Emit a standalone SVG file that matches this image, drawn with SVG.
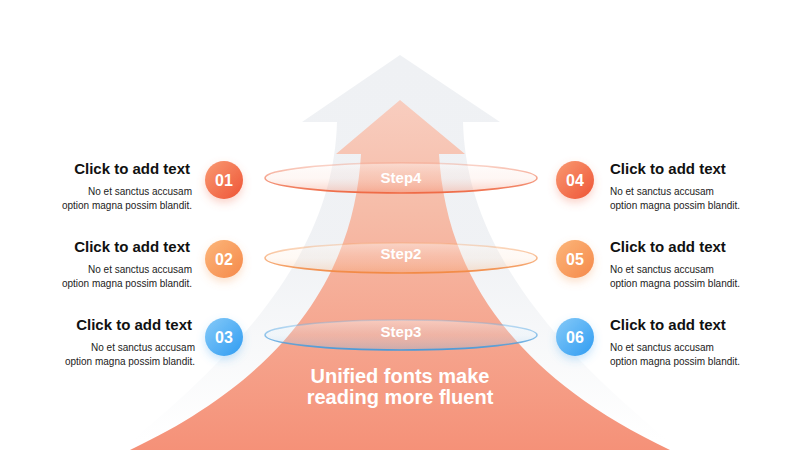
<svg xmlns="http://www.w3.org/2000/svg" width="800" height="450" viewBox="0 0 800 450">
<defs>
<linearGradient id="gGray" x1="0" y1="55" x2="0" y2="440" gradientUnits="userSpaceOnUse">
<stop offset="0" stop-color="#eff1f4"/>
<stop offset="0.5" stop-color="#eff1f4" stop-opacity="0.95"/>
<stop offset="1" stop-color="#eff1f4" stop-opacity="0"/>
</linearGradient>
<linearGradient id="gOrange" x1="0" y1="100" x2="0" y2="450" gradientUnits="userSpaceOnUse">
<stop offset="0" stop-color="#f8cdbf"/>
<stop offset="0.3" stop-color="#f6bda9"/>
<stop offset="1" stop-color="#f59178"/>
</linearGradient>
<linearGradient id="s4" x1="0" y1="0" x2="0" y2="1">
<stop offset="0" stop-color="#f08060" stop-opacity="0.3"/>
<stop offset="1" stop-color="#ef6a45"/>
</linearGradient>
<linearGradient id="f4" x1="0" y1="0" x2="0" y2="1">
<stop offset="0" stop-color="#ffffff" stop-opacity="0.4"/>
<stop offset="0.5" stop-color="#fbd8cc" stop-opacity="0.2"/>
<stop offset="1" stop-color="#f37a58" stop-opacity="0.35"/>
</linearGradient>
<linearGradient id="s2" x1="0" y1="0" x2="0" y2="1">
<stop offset="0" stop-color="#f5a060" stop-opacity="0.3"/>
<stop offset="1" stop-color="#f28a45"/>
</linearGradient>
<linearGradient id="f2" x1="0" y1="0" x2="0" y2="1">
<stop offset="0" stop-color="#ffffff" stop-opacity="0.4"/>
<stop offset="0.5" stop-color="#fde2cc" stop-opacity="0.2"/>
<stop offset="1" stop-color="#f5a060" stop-opacity="0.3"/>
</linearGradient>
<linearGradient id="s3" x1="0" y1="0" x2="0" y2="1">
<stop offset="0" stop-color="#6ab4ea" stop-opacity="0.3"/>
<stop offset="1" stop-color="#4a9ad8"/>
</linearGradient>
<linearGradient id="f3" x1="0" y1="0" x2="0" y2="1">
<stop offset="0" stop-color="#ffffff" stop-opacity="0.4"/>
<stop offset="0.5" stop-color="#d6ebfa" stop-opacity="0.2"/>
<stop offset="1" stop-color="#7ab8e8" stop-opacity="0.35"/>
</linearGradient>
<linearGradient id="cRed" x1="0" y1="0" x2="1" y2="1">
<stop offset="0" stop-color="#f99a72"/>
<stop offset="1" stop-color="#ee5436"/>
</linearGradient>
<linearGradient id="cOrg" x1="0" y1="0" x2="1" y2="1">
<stop offset="0" stop-color="#fcb67a"/>
<stop offset="1" stop-color="#f5894a"/>
</linearGradient>
<linearGradient id="cBlue" x1="0" y1="0" x2="1" y2="1">
<stop offset="0" stop-color="#86caf8"/>
<stop offset="1" stop-color="#2f9cf2"/>
</linearGradient>
<filter id="shRed" x="-50%" y="-50%" width="200%" height="200%"><feDropShadow dx="0" dy="4" stdDeviation="4" flood-color="#f07050" flood-opacity="0.3"/></filter>
<filter id="shOrg" x="-50%" y="-50%" width="200%" height="200%"><feDropShadow dx="0" dy="4" stdDeviation="4" flood-color="#f59a55" flood-opacity="0.3"/></filter>
<filter id="shBlue" x="-50%" y="-50%" width="200%" height="200%"><feDropShadow dx="0" dy="4" stdDeviation="4" flood-color="#4aa8f0" flood-opacity="0.3"/></filter>
</defs>
<style>
.title{font-family:"Liberation Sans",Arial,sans-serif;font-weight:bold;font-size:15px;fill:#111111}
.sub{font-family:"Liberation Sans",Arial,sans-serif;font-size:10px;fill:#222222}
.num{font-family:"Liberation Sans",Arial,sans-serif;font-weight:bold;font-size:16px;fill:#ffffff;text-anchor:middle}
.step{font-family:"Liberation Sans",Arial,sans-serif;font-weight:bold;font-size:15px;fill:#ffffff;text-anchor:middle}
.main{font-family:"Liberation Sans",Arial,sans-serif;font-weight:bold;font-size:20px;fill:#ffffff;text-anchor:middle}
.l{text-anchor:end}
</style>
<rect width="800" height="450" fill="#ffffff"/>
<g id="arrows">
<path id="grayArrow" d="M400,55 L500,122 L463,122 C466,230 530,330 680,450 L120,450 C270,330 334,230 337,122 L302,122 Z" fill="url(#gGray)"/>
<path id="orangeArrow" d="M400,100 L465,154 L439,154 C445,260 500,370 670,450 L130,450 C300,370 355,260 361,154 L336,154 Z" fill="url(#gOrange)"/>
</g>
<g id="step4">
<ellipse cx="401" cy="178" rx="136" ry="15" fill="url(#f4)" stroke="url(#s4)" stroke-width="1.6"/>
<text class="step" x="401" y="183">Step4</text>
</g>
<g id="step2">
<ellipse cx="401" cy="258" rx="136" ry="15" fill="url(#f2)" stroke="url(#s2)" stroke-width="1.6"/>
<text class="step" x="401" y="259">Step2</text>
</g>
<g id="step3">
<ellipse cx="401" cy="335" rx="136" ry="15" fill="url(#f3)" stroke="url(#s3)" stroke-width="1.6"/>
<text class="step" x="401" y="337">Step3</text>
</g>
<g id="mainText">
<text class="main" x="400" y="383">Unified fonts make</text>
<text class="main" x="400" y="404">reading more fluent</text>
</g>
<g id="item01">
<circle cx="224" cy="180" r="19" fill="url(#cRed)" filter="url(#shRed)"/>
<text class="num" x="224" y="186">01</text>
<text class="title l" x="190" y="174">Click to add text</text>
<text class="sub l" x="192" y="195">No et sanctus accusam</text>
<text class="sub l" x="192" y="209">option magna possim blandit.</text>
</g>
<g id="item02">
<circle cx="224" cy="259" r="19" fill="url(#cOrg)" filter="url(#shOrg)"/>
<text class="num" x="224" y="265">02</text>
<text class="title l" x="190" y="252">Click to add text</text>
<text class="sub l" x="192" y="273">No et sanctus accusam</text>
<text class="sub l" x="192" y="287">option magna possim blandit.</text>
</g>
<g id="item03">
<circle cx="224" cy="337" r="19" fill="url(#cBlue)" filter="url(#shBlue)"/>
<text class="num" x="224" y="343">03</text>
<text class="title l" x="192" y="330">Click to add text</text>
<text class="sub l" x="195" y="351">No et sanctus accusam</text>
<text class="sub l" x="195" y="365">option magna possim blandit.</text>
</g>
<g id="item04">
<circle cx="575" cy="180" r="19" fill="url(#cRed)" filter="url(#shRed)"/>
<text class="num" x="575" y="186">04</text>
<text class="title" x="610" y="174">Click to add text</text>
<text class="sub" x="610" y="195">No et sanctus accusam</text>
<text class="sub" x="610" y="209">option magna possim blandit.</text>
</g>
<g id="item05">
<circle cx="575" cy="259" r="19" fill="url(#cOrg)" filter="url(#shOrg)"/>
<text class="num" x="575" y="265">05</text>
<text class="title" x="610" y="252">Click to add text</text>
<text class="sub" x="610" y="273">No et sanctus accusam</text>
<text class="sub" x="610" y="287">option magna possim blandit.</text>
</g>
<g id="item06">
<circle cx="575" cy="337" r="19" fill="url(#cBlue)" filter="url(#shBlue)"/>
<text class="num" x="575" y="343">06</text>
<text class="title" x="610" y="330">Click to add text</text>
<text class="sub" x="610" y="351">No et sanctus accusam</text>
<text class="sub" x="610" y="365">option magna possim blandit.</text>
</g>
</svg>
